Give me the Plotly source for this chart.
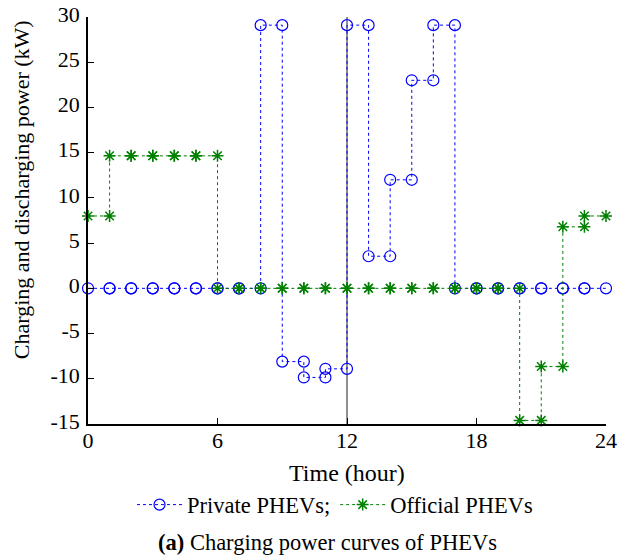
import plotly.graph_objects as go

hours = list(range(0, 25))
private_vals = [0, 0, 0, 0, 0, 0, 0, 0, 29.1, -8.1, -9.85, -8.9, 29.1, 3.55, 12.0, 23.0, 29.1,
                0, 0, 0, 0, 0, 0, 0]
official_vals = [8.0, 14.65, 14.65, 14.65, 14.65, 14.65, 0, 0, 0, 0, 0, 0, 0, 0, 0, 0, 0,
                 0, 0, 0, -14.6, -8.65, 6.8, 8.0]
x_ticks = [0, 6, 12, 18, 24]
y_ticks = [-15, -10, -5, 0, 5, 10, 15, 20, 25, 30]
y_tick_text = ["-15", "-10", "-5", "0", "5", "10", "15", "20", "25", "30"]


def steps(vals):
    xs, ys = [], []
    for h, v in enumerate(vals):
        xs += [hours[h], hours[h + 1]]
        ys += [v, v]
    return xs, ys


FONT = "Liberation Serif, Times New Roman, serif"

fig = go.Figure()
px_, py_ = steps(private_vals)
ox_, oy_ = steps(official_vals)

fig.add_trace(go.Scatter(
    x=px_, y=py_, mode="lines+markers", name="Private PHEVs;",
    line=dict(color="#0000ff", width=1, dash="dot"),
    marker=dict(symbol="circle-open", size=11, color="#0000ff", line=dict(width=1.2, color="#0000ff")),
    cliponaxis=False,
))
fig.add_trace(go.Scatter(
    x=ox_, y=oy_, mode="lines+markers", name="Official PHEVs",
    line=dict(color="#008000", width=1, dash="dot"),
    marker=dict(symbol="asterisk-open", size=10, color="#008000", line=dict(width=1.5, color="#008000")),
    cliponaxis=False,
))

fig.add_shape(type="line", x0=12, x1=12, y0=-15, y1=30, xref="x", yref="y",
              line=dict(color="#222222", width=1), layer="below")

fig.update_layout(
    width=618, height=556,
    margin=dict(l=88, r=12, t=17, b=132),
    paper_bgcolor="white", plot_bgcolor="white",
    font=dict(family=FONT, size=22, color="black"),
    showlegend=True,
    legend=dict(orientation="h", x=0.085, xanchor="left", y=-0.199, yanchor="middle",
                font=dict(size=22.5, family=FONT), bgcolor="rgba(0,0,0,0)",
                itemwidth=45, tracegroupgap=0),
    xaxis=dict(range=[0, 24], tickvals=x_ticks, ticks="inside", ticklen=6, tickcolor="black",
               showline=True, linecolor="black", linewidth=1.5, showgrid=False, zeroline=False,
               tickfont=dict(size=22, family=FONT), automargin=False,
               ticklabeloverflow="allow", ticklabelstandoff=-4),
    yaxis=dict(range=[-15, 30], tickvals=y_ticks, ticktext=y_tick_text, ticks="inside", ticklen=6,
               tickcolor="black", showline=True, linecolor="black", linewidth=1.5, showgrid=False,
               zeroline=False, tickfont=dict(size=22, family=FONT), automargin=False,
               ticklabelstandoff=2, ticklabelshift=-3, ticklabeloverflow="allow"),
    annotations=[
        dict(text="Time (hour)", xref="paper", yref="paper", x=0.5, y=-0.120,
             xanchor="center", yanchor="middle", showarrow=False, font=dict(size=24, family=FONT)),
        dict(text="Charging and discharging power (kW)", xref="paper", yref="paper",
             x=-0.127, y=0.575, xanchor="center", yanchor="middle", textangle=-90, showarrow=False,
             font=dict(size=22, family=FONT)),
        dict(text="<b>(a)</b> Charging power curves of PHEVs", xref="paper", yref="paper",
             x=0.463, y=-0.29, xanchor="center", yanchor="middle", showarrow=False,
             font=dict(size=22.5, family=FONT)),
    ],
)

fig.write_html("out.html", config={"displayModeBar": False},
               post_script="document.body.style.margin='0';")
